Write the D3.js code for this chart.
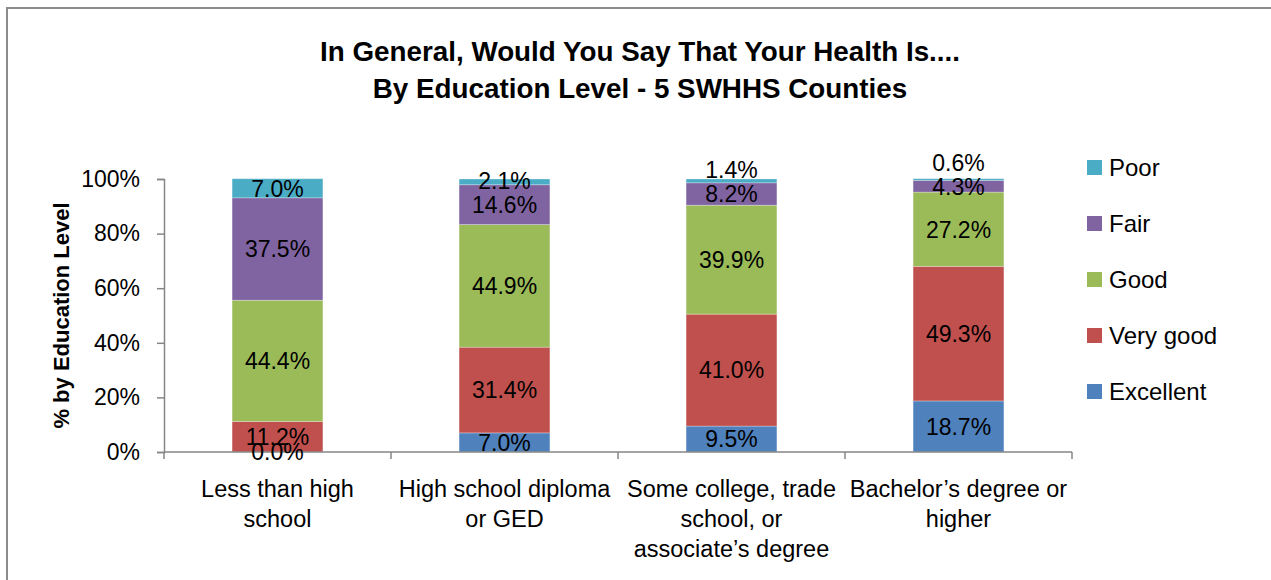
<!DOCTYPE html>
<html>
<head>
<meta charset="utf-8">
<script src="https://cdn.jsdelivr.net/npm/d3@7"></script>
<style>
  html, body { margin: 0; padding: 0; background: #fff; }
  svg { display: block; font-family: "Liberation Sans", Arial, sans-serif; }
</style>
</head>
<body>
<svg id="chart" width="1271" height="580"></svg>
<script>
// Education levels (x categories)
const categories = [
  "Less than high|school",
  "High school diploma|or GED",
  "Some college, trade|school, or|associate\u2019s degree",
  "Bachelor\u2019s degree or|higher"
];
// Health rating series, stacked bottom to top
const seriesNames = ["Excellent", "Very good", "Good", "Fair", "Poor"];
const excellent = [0.0, 7.0, 9.5, 18.7];
const veryGood  = [11.2, 31.4, 41.0, 49.3];
const good      = [44.4, 44.9, 39.9, 27.2];
const fair      = [37.5, 14.6, 8.2, 4.3];
const poor      = [7.0, 2.1, 1.4, 0.6];
const yTicks = [0, 20, 40, 60, 80, 100];
const colors = ["#4F81BD", "#C0504D", "#9BBB59", "#8064A2", "#4BACC6"];

const seriesValues = [excellent, veryGood, good, fair, poor];
const rows = categories.map((c, i) => {
  const r = { cat: c };
  seriesNames.forEach((s, k) => { r[s] = seriesValues[k][i]; });
  return r;
});

const svg = d3.select("#chart");

// Chart frame
svg.append("rect")
  .attr("x", 7).attr("y", 8)
  .attr("width", 1300).attr("height", 620)
  .attr("fill", "none").attr("stroke", "#8c8c8c").attr("stroke-width", 2);

// Title
const title = svg.append("text")
  .attr("text-anchor", "middle")
  .attr("font-weight", "bold")
  .attr("font-size", 27.8)
  .attr("fill", "#000");
title.append("tspan").attr("x", 640).attr("y", 61).text("In General, Would You Say That Your Health Is....");
title.append("tspan").attr("x", 640).attr("y", 98).text("By Education Level - 5 SWHHS Counties");

const plot = { left: 164, right: 1072, top: 179, bottom: 452 };

const x = d3.scaleBand()
  .domain(categories)
  .range([plot.left, plot.right])
  .paddingInner(0.6)
  .paddingOuter(0.3);

const y = d3.scaleLinear()
  .domain([0, 100])
  .range([plot.bottom, plot.top]);

const stack = d3.stack().keys(seriesNames);
const layers = stack(rows);

// Bars
const gBars = svg.append("g");
layers.forEach((layer, k) => {
  gBars.selectAll(null)
    .data(layer)
    .join("rect")
    .attr("x", d => x(d.data.cat))
    .attr("width", x.bandwidth())
    .attr("y", d => y(d[1]))
    .attr("height", d => y(d[0]) - y(d[1]))
    .attr("fill", colors[k])
    .attr("stroke", "rgba(255,255,255,0.35)")
    .attr("stroke-width", 0.8);
});

// Y axis
const yAxis = d3.axisLeft(y)
  .tickValues(yTicks)
  .tickFormat(d => d + "%")
  .tickSizeOuter(0)
  .tickSize(7)
  .tickPadding(17);
const gy = svg.append("g")
  .attr("transform", `translate(${plot.left},0)`)
  .call(yAxis);
gy.select(".domain").attr("stroke", "#868686").attr("stroke-width", 1.5);
gy.selectAll(".tick line").attr("stroke", "#868686").attr("stroke-width", 1.5);
gy.selectAll(".tick text")
  .attr("font-size", 23).attr("fill", "#000")
  .attr("font-family", "Liberation Sans, Arial, sans-serif");

// X axis: baseline with tick marks at category boundaries
const gx = svg.append("g");
gx.append("line")
  .attr("x1", plot.left).attr("x2", plot.right)
  .attr("y1", plot.bottom).attr("y2", plot.bottom)
  .attr("stroke", "#868686").attr("stroke-width", 1.5);
const step = x.step();
const boundaries = d3.range(categories.length + 1).map(i => plot.left + i * step);
gx.selectAll(null).data(boundaries).join("line")
  .attr("x1", d => d).attr("x2", d => d)
  .attr("y1", plot.bottom).attr("y2", plot.bottom + 7)
  .attr("stroke", "#868686").attr("stroke-width", 1.5);

// Category labels (wrapped)
categories.forEach(c => {
  const t = svg.append("text")
    .attr("text-anchor", "middle")
    .attr("font-size", 23.5)
    .attr("fill", "#000");
  const cx = x(c) + x.bandwidth() / 2;
  c.split("|").forEach((line, i) => {
    t.append("tspan").attr("x", cx).attr("y", 497 + i * 30).text(line);
  });
});

// Y axis title
svg.append("text")
  .attr("transform", `translate(69,${(plot.top + plot.bottom) / 2}) rotate(-90)`)
  .attr("text-anchor", "middle")
  .attr("font-weight", "bold")
  .attr("font-size", 22)
  .attr("fill", "#000")
  .text("% by Education Level");

// Data labels, centred in each segment; the top series' label is kept clear of the one beneath
const labelGap = 24;
const gLabels = svg.append("g");
categories.forEach((c, i) => {
  let prevY = null;
  layers.forEach((layer, k) => {
    const d = layer[i];
    let ly = y((d[0] + d[1]) / 2);
    if (k === layers.length - 1 && prevY !== null) ly = Math.min(ly, prevY - labelGap);
    prevY = ly;
    gLabels.append("text")
      .attr("x", x(c) + x.bandwidth() / 2)
      .attr("y", ly)
      .attr("dy", "0.36em")
      .attr("text-anchor", "middle")
      .attr("font-size", 23)
      .attr("fill", "#000")
      .text(d.data[seriesNames[k]].toFixed(1) + "%");
  });
});

// Legend (top entry = Poor)
const legendItems = seriesNames.slice().reverse();
const gLegend = svg.append("g");
legendItems.forEach((name, i) => {
  const k = seriesNames.indexOf(name);
  const cy = 167.5 + i * 56;
  gLegend.append("rect")
    .attr("x", 1087).attr("y", cy - 7.5)
    .attr("width", 15).attr("height", 15)
    .attr("fill", colors[k]);
  gLegend.append("text")
    .attr("x", 1109).attr("y", cy)
    .attr("dy", "0.36em")
    .attr("font-size", 24)
    .attr("fill", "#000")
    .text(name);
});
</script>
</body>
</html>
